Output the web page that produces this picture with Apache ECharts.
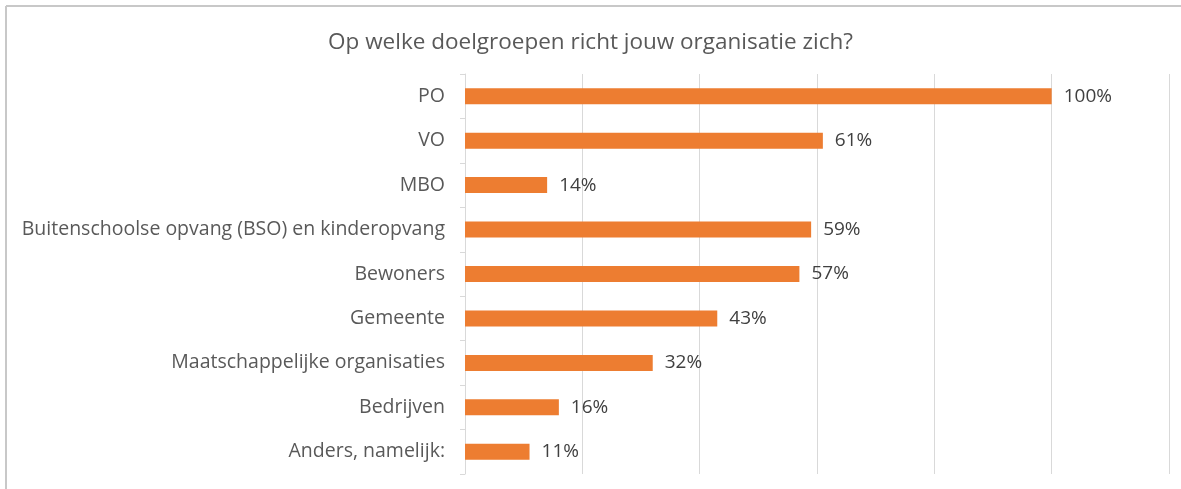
<!DOCTYPE html>
<html>
<head>
<meta charset="utf-8">
<script src="https://cdn.jsdelivr.net/npm/echarts@6/dist/echarts.min.js"></script>
<style>
html,body{margin:0;padding:0;background:#fff;}
#chart{width:1181px;height:489px;}
</style>
</head>
<body>
<div id="chart"></div>
<script>
const titleText = 'Op welke doelgroepen richt jouw organisatie zich?';
const categories = ['PO','VO','MBO','Buitenschoolse opvang (BSO) en kinderopvang','Bewoners','Gemeente','Maatschappelijke organisaties','Bedrijven','Anders, namelijk:'];
const values = [100,61,14,59,57,43,32,16,11];

const chart = echarts.init(document.getElementById('chart'), null, {renderer:'canvas'});
const font = '"Open Sans", "Noto Sans", sans-serif';
chart.setOption({
  animation:false,
  backgroundColor:'#fff',
  graphic:[
    {type:'line', shape:{x1:6,y1:6,x2:1181,y2:6}, style:{stroke:'#c8c8c8', lineWidth:2}},
    {type:'line', shape:{x1:6,y1:6,x2:6,y2:489}, style:{stroke:'#c8c8c8', lineWidth:2}}
  ],
  title:{text:titleText, left:'center', top:26, textStyle:{fontFamily:font, fontSize:22.5, fontWeight:'normal', color:'#595959'}},
  grid:{left:465, right:12, top:74, bottom:15, containLabel:false},
  xAxis:{type:'value', min:0, max:120, interval:20,
    axisLine:{show:false}, axisTick:{show:false}, axisLabel:{show:false},
    splitLine:{show:true, lineStyle:{color:'#d9d9d9', width:1}}},
  yAxis:{type:'category', data:categories, inverse:true,
    axisLine:{show:true, lineStyle:{color:'#d9d9d9'}},
    axisTick:{show:true, length:5, lineStyle:{color:'#d9d9d9'}},
    axisLabel:{fontFamily:font, fontSize:19.5, color:'#595959', margin:20}},
  series:[{type:'bar', data:values, barWidth:16,
    itemStyle:{color:'#ED7D31'},
    label:{show:true, position:'right', distance:12, formatter:'{c}%', fontFamily:font, fontSize:19, color:'#404040'}}]
});
</script>
</body>
</html>
